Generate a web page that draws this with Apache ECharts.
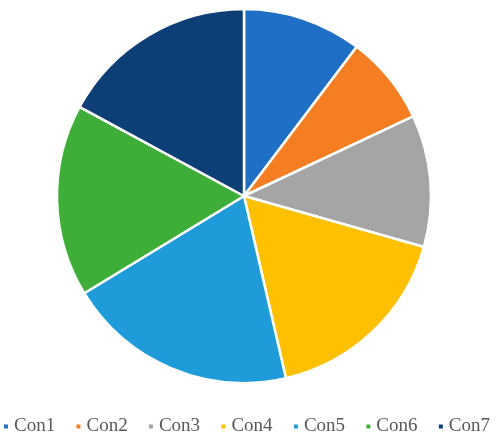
<!DOCTYPE html>
<html>
<head>
<meta charset="utf-8">
<script src="https://cdn.jsdelivr.net/npm/echarts@6/dist/echarts.min.js"></script>
<style>
  html, body { margin: 0; padding: 0; background: #fff; }
  #chart { width: 498px; height: 439px; }
</style>
</head>
<body>
<div id="chart"></div>
<script>
// data (share of the pie, percent)
const categories = ['Con1', 'Con2', 'Con3', 'Con4', 'Con5', 'Con6', 'Con7'];
const values = [10.3, 7.7, 11.4, 17.0, 19.9, 16.6, 17.1];
const colors = ['#1f6fc6', '#f57d22', '#a5a5a5', '#ffc000', '#1e9bd8', '#3eae38', '#0d3f76'];

const myChart = echarts.init(document.getElementById('chart'));

const option = {
  animation: false,
  color: colors,
  legend: {
    data: categories,
    left: 2,
    top: 417,
    width: 560,
    padding: 0,
    icon: 'rect',
    itemWidth: 6,
    itemHeight: 6,
    itemGap: 19.3,
    textStyle: {
      fontFamily: 'Liberation Serif',
      fontSize: 19,
      color: '#595959'
    }
  },
  series: [
    {
      type: 'pie',
      center: [244, 196],
      radius: [0, 187],
      startAngle: 90,
      clockwise: true,
      label: { show: false },
      labelLine: { show: false },
      itemStyle: {
        borderColor: '#fff',
        borderWidth: 2.5
      },
      emphasis: { disabled: true },
      data: categories.map((name, i) => ({ name: name, value: values[i] }))
    }
  ]
};

myChart.setOption(option);
</script>
</body>
</html>
